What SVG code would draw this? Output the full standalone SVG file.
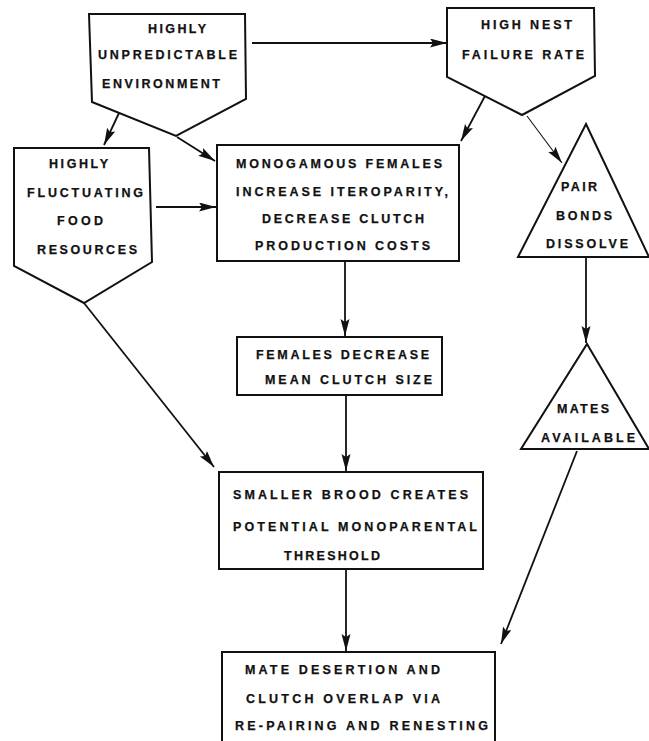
<svg xmlns="http://www.w3.org/2000/svg" width="649" height="741" viewBox="0 0 649 741">
<style>
  .shape { fill: #fff; stroke: #111; stroke-width: 2; stroke-linejoin: miter; }
  .lbl { font-family: "Liberation Sans", Arial, sans-serif; font-weight: bold; font-size: 12.5px; fill: #111; stroke: #111; stroke-width: 0.25; }
  .conn { stroke: #111; stroke-width: 1.8; fill: none; marker-end: url(#arr); }
  .thin { stroke-width: 1.1; }
</style>
<defs>
  <marker id="arr" markerUnits="userSpaceOnUse" markerWidth="18" markerHeight="10" refX="17" refY="4.5" orient="auto">
    <path d="M0,0 L17,4.5 L0,9 L3,4.5 z" fill="#111"/>
  </marker>
</defs>
<rect width="649" height="741" fill="#fff"/>

<g id="connectors">
  <line class="conn" x1="252" y1="43" x2="447" y2="43"/>
  <line class="conn" x1="119" y1="113" x2="104" y2="145"/>
  <line class="conn" x1="177" y1="137" x2="215" y2="161"/>
  <line class="conn" x1="485" y1="96" x2="461" y2="141"/>
  <line class="conn thin" x1="527" y1="116" x2="562" y2="163"/>
  <line class="conn" x1="156" y1="207" x2="216" y2="207"/>
  <line class="conn" x1="345" y1="262" x2="345" y2="336"/>
  <line class="conn" x1="586" y1="258" x2="586" y2="343"/>
  <line class="conn" x1="84" y1="303" x2="214" y2="467"/>
  <line class="conn" x1="346" y1="396" x2="346" y2="471"/>
  <line class="conn" x1="346" y1="569" x2="346" y2="651"/>
  <line class="conn" x1="577" y1="451" x2="501" y2="644"/>
</g>

<g id="n1">
  <polygon class="shape" points="89,14 245,14 246,99 176,136 92,102"/>
  <text class="lbl" x="148" y="33" textLength="58" lengthAdjust="spacing">HIGHLY</text>
  <text class="lbl" x="98" y="59" textLength="139" lengthAdjust="spacing">UNPREDICTABLE</text>
  <text class="lbl" x="102" y="88" textLength="118" lengthAdjust="spacing">ENVIRONMENT</text>
</g>

<g id="n2">
  <polygon class="shape" points="447,8 594,8 595,76 522,115 447,77"/>
  <text class="lbl" x="481" y="29" textLength="91" lengthAdjust="spacing">HIGH NEST</text>
  <text class="lbl" x="462" y="59" textLength="122" lengthAdjust="spacing">FAILURE RATE</text>
</g>

<g id="n3">
  <polygon class="shape" points="14,148 149,148 152,262 84,303 14,266"/>
  <text class="lbl" x="49" y="168" textLength="59" lengthAdjust="spacing">HIGHLY</text>
  <text class="lbl" x="27" y="197" textLength="116" lengthAdjust="spacing">FLUCTUATING</text>
  <text class="lbl" x="57" y="225" textLength="46" lengthAdjust="spacing">FOOD</text>
  <text class="lbl" x="37" y="254" textLength="100" lengthAdjust="spacing">RESOURCES</text>
</g>

<g id="n4">
  <rect class="shape" x="217" y="145" width="242" height="116"/>
  <text class="lbl" x="236" y="168" textLength="206" lengthAdjust="spacing">MONOGAMOUS FEMALES</text>
  <text class="lbl" x="236" y="196" textLength="212" lengthAdjust="spacing">INCREASE ITEROPARITY,</text>
  <text class="lbl" x="262" y="223" textLength="162" lengthAdjust="spacing">DECREASE CLUTCH</text>
  <text class="lbl" x="255" y="250" textLength="175" lengthAdjust="spacing">PRODUCTION COSTS</text>
</g>

<g id="t1">
  <polygon class="shape" points="586,124 649,257 518,257"/>
  <text class="lbl" x="561" y="191" textLength="36" lengthAdjust="spacing">PAIR</text>
  <text class="lbl" x="556" y="220" textLength="56" lengthAdjust="spacing">BONDS</text>
  <text class="lbl" x="546" y="248" textLength="82" lengthAdjust="spacing">DISSOLVE</text>
</g>

<g id="n5">
  <rect class="shape" x="237" y="337" width="205" height="58"/>
  <text class="lbl" x="256" y="359" textLength="173" lengthAdjust="spacing">FEMALES DECREASE</text>
  <text class="lbl" x="265" y="384" textLength="167" lengthAdjust="spacing">MEAN CLUTCH SIZE</text>
</g>

<g id="t2">
  <polygon class="shape" points="587,344 649,449 521,449"/>
  <text class="lbl" x="557" y="413" textLength="52" lengthAdjust="spacing">MATES</text>
  <text class="lbl" x="541" y="442" textLength="94" lengthAdjust="spacing">AVAILABLE</text>
</g>

<g id="n6">
  <rect class="shape" x="219" y="472" width="264" height="97"/>
  <text class="lbl" x="233" y="499" textLength="235" lengthAdjust="spacing">SMALLER BROOD CREATES</text>
  <text class="lbl" x="233" y="531" textLength="244" lengthAdjust="spacing">POTENTIAL MONOPARENTAL</text>
  <text class="lbl" x="284" y="560" textLength="96" lengthAdjust="spacing">THRESHOLD</text>
</g>

<g id="n7">
  <rect class="shape" x="222" y="652" width="273" height="92"/>
  <text class="lbl" x="245" y="674" textLength="195" lengthAdjust="spacing">MATE DESERTION AND</text>
  <text class="lbl" x="246" y="703" textLength="194" lengthAdjust="spacing">CLUTCH OVERLAP VIA</text>
  <text class="lbl" x="235" y="730" textLength="253" lengthAdjust="spacing">RE-PAIRING AND RENESTING</text>
</g>
</svg>
